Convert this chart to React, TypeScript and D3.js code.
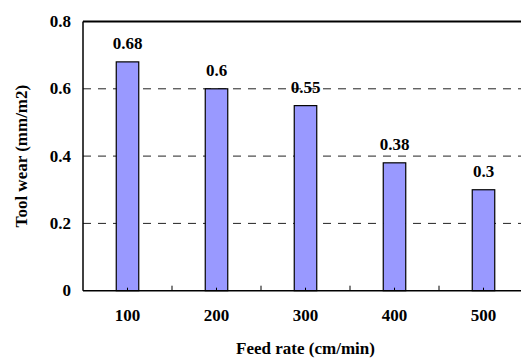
import React from "react";
import * as d3 from "d3";

const categories = ["100", "200", "300", "400", "500"];
const wear = [0.68, 0.6, 0.55, 0.38, 0.3];
const yTicks = [0, 0.2, 0.4, 0.6, 0.8];
const gridValues = [0.2, 0.4, 0.6];

const W = 521;
const H = 358;
const left = 83;
const right = 528;
const top = 21.5;
const bottom = 290.7;
const font = "'Liberation Serif', 'Times New Roman', Times, serif";
const fs = 17;

export default function App() {
  const x = d3.scaleBand<string>().domain(categories).range([left, right]).paddingInner(0).paddingOuter(0);
  const y = d3.scaleLinear().domain([0, 0.8]).range([bottom, top]);
  const bw = 22.5;
  const fmt = (v: number) => (v === 0 ? "0" : String(v));

  return (
    <svg width={W} height={H} style={{ position: "absolute", left: 0, top: 0, background: "#fff" }}>
      {/* dashed gridlines */}
      {gridValues.map((v) => (
        <line key={v} x1={left} x2={right} y1={y(v)} y2={y(v)} stroke="#222" strokeWidth={1} strokeDasharray="8,7" />
      ))}
      {/* bars */}
      {categories.map((c, i) => {
        const cx = (x(c) as number) + x.bandwidth() / 2;
        return (
          <g key={c}>
            <rect x={cx - bw / 2} y={y(wear[i])} width={bw} height={bottom - y(wear[i])} fill="#9999FF" stroke="#000" strokeWidth={1.2} />
            <line x1={cx} x2={cx} y1={bottom} y2={bottom - 3} stroke="#000" strokeWidth={1} />
            <text x={cx} y={y(wear[i]) - 13} textAnchor="middle" fontFamily={font} fontWeight="bold" fontSize={fs} fill="#000">
              {fmt(wear[i])}
            </text>
            <text x={cx} y={321} textAnchor="middle" fontFamily={font} fontWeight="bold" fontSize={fs} fill="#000">
              {c}
            </text>
          </g>
        );
      })}
      {/* category boundary ticks */}
      {categories.slice(1).map((c) => (
        <line key={c} x1={x(c) as number} x2={x(c) as number} y1={bottom} y2={bottom - 5} stroke="#000" strokeWidth={1} />
      ))}
      {/* frame */}
      <line x1={left} x2={right} y1={top} y2={top} stroke="#000" strokeWidth={2} />
      <line x1={left} x2={left} y1={top} y2={bottom} stroke="#000" strokeWidth={1.5} />
      <line x1={left} x2={right} y1={bottom} y2={bottom} stroke="#000" strokeWidth={1.5} />
      {/* y tick labels */}
      {yTicks.map((v) => (
        <text key={v} x={71} y={y(v) + 5.5} textAnchor="end" fontFamily={font} fontWeight="bold" fontSize={fs} fill="#000">
          {fmt(v)}
        </text>
      ))}
      {/* axis titles */}
      <text x={(left + right) / 2} y={354} textAnchor="middle" fontFamily={font} fontWeight="bold" fontSize={fs} fill="#000">
        Feed rate (cm/min)
      </text>
      <text
        transform={`translate(27,${(top + bottom) / 2}) rotate(-90)`}
        textAnchor="middle"
        fontFamily={font}
        fontWeight="bold"
        fontSize={fs}
        fill="#000"
      >
        Tool wear (mm/m2)
      </text>
    </svg>
  );
}
